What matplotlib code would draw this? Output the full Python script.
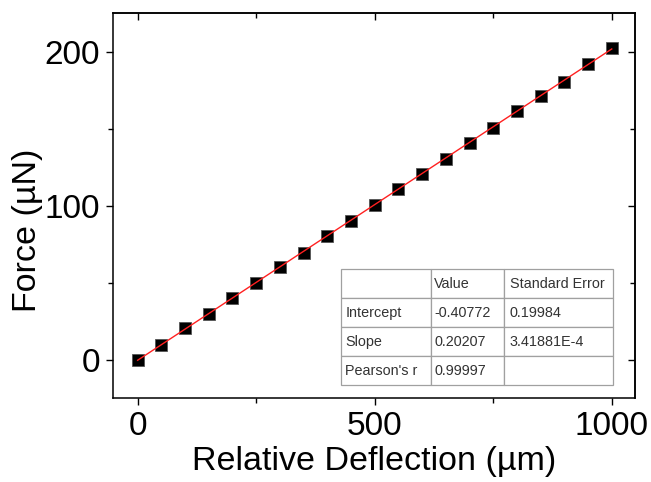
import matplotlib
matplotlib.use("Agg")
import matplotlib.pyplot as plt
from matplotlib.ticker import MultipleLocator
import numpy as np

plt.rcParams['font.family'] = ['Liberation Sans', 'DejaVu Sans']

# Data
deflection = [0, 50, 100, 150, 200, 250, 300, 350, 400, 450, 500,
              550, 600, 650, 700, 750, 800, 850, 900, 950, 1000]
force = [0, 9.5, 20.5, 29.5, 40, 50, 60, 69.5, 80, 90, 100.5,
         110.5, 120.5, 130.5, 140.5, 150.5, 161.5, 171, 180.5, 192, 202]
intercept = -0.40772
slope = 0.20207
table_cols = ["", "Value", "Standard Error"]
table_rows = [["Intercept", "-0.40772", "0.19984"],
              ["Slope", "0.20207", "3.41881E-4"],
              ["Pearson's r", "0.99997", ""]]

fig = plt.figure(figsize=(6.51, 4.82), dpi=100)
ax = fig.add_axes([0.1743, 0.174, 0.8011, 0.799])

fit_x = np.array([deflection[0], deflection[-1]])
ax.plot(fit_x, intercept + slope * fit_x, color='#ff2020', lw=1.0, zorder=3)
ax.plot(deflection, force, ls='none', marker='s', markersize=8.5,
        markerfacecolor='black', markeredgecolor='#555555', markeredgewidth=0.6, zorder=2)

ax.set_xlim(-51, 1049)
ax.set_ylim(-25, 225)
ax.xaxis.set_major_locator(MultipleLocator(500))
ax.xaxis.set_minor_locator(MultipleLocator(250))
ax.yaxis.set_major_locator(MultipleLocator(100))
ax.yaxis.set_minor_locator(MultipleLocator(50))

for s in ax.spines.values():
    s.set_linewidth(1.1)
ax.tick_params(which='major', direction='out', length=5, width=1.0, labelsize=24)
ax.tick_params(axis='x', which='major', pad=4.5)
ax.tick_params(axis='y', which='major', pad=4.5)
ax.tick_params(which='minor', direction='out', length=3.5, width=1.0)

secx = ax.secondary_xaxis('top')
secx.xaxis.set_major_locator(MultipleLocator(500))
secx.xaxis.set_minor_locator(MultipleLocator(250))
secx.tick_params(which='major', direction='in', length=5, width=1.0, labeltop=False)
secx.tick_params(which='minor', direction='in', length=3.5, width=1.0)
secx.spines['top'].set_linewidth(1.1)

secy = ax.secondary_yaxis('right')
secy.yaxis.set_major_locator(MultipleLocator(100))
secy.yaxis.set_minor_locator(MultipleLocator(50))
secy.tick_params(which='major', direction='in', length=5, width=1.0, labelright=False)
secy.tick_params(which='minor', direction='in', length=3.5, width=1.0)
secy.spines['right'].set_linewidth(1.1)

ax.set_xlabel("Relative Deflection (µm)", fontsize=24.5, labelpad=3)
ax.set_ylabel("Force (µN)", fontsize=24.5, labelpad=8)
ax.yaxis.set_label_coords(-0.135, 0.435)

tbl = ax.table(cellText=table_rows, colLabels=table_cols, cellLoc='left',
               colLoc='left', colWidths=[0.33, 0.27, 0.40],
               bbox=[0.436, 0.0338, 0.522, 0.301], zorder=5)
tbl.auto_set_font_size(False)
tbl.set_fontsize(10.4)
for (r, c), cell in tbl.get_celld().items():
    cell.set_edgecolor('#a0a0a0')
    cell.set_linewidth(0.9)
    cell.set_facecolor('white')
    cell.PAD = 0.05
    cell.get_text().set_color('#333333')

fig.savefig("out.png", dpi=100)
